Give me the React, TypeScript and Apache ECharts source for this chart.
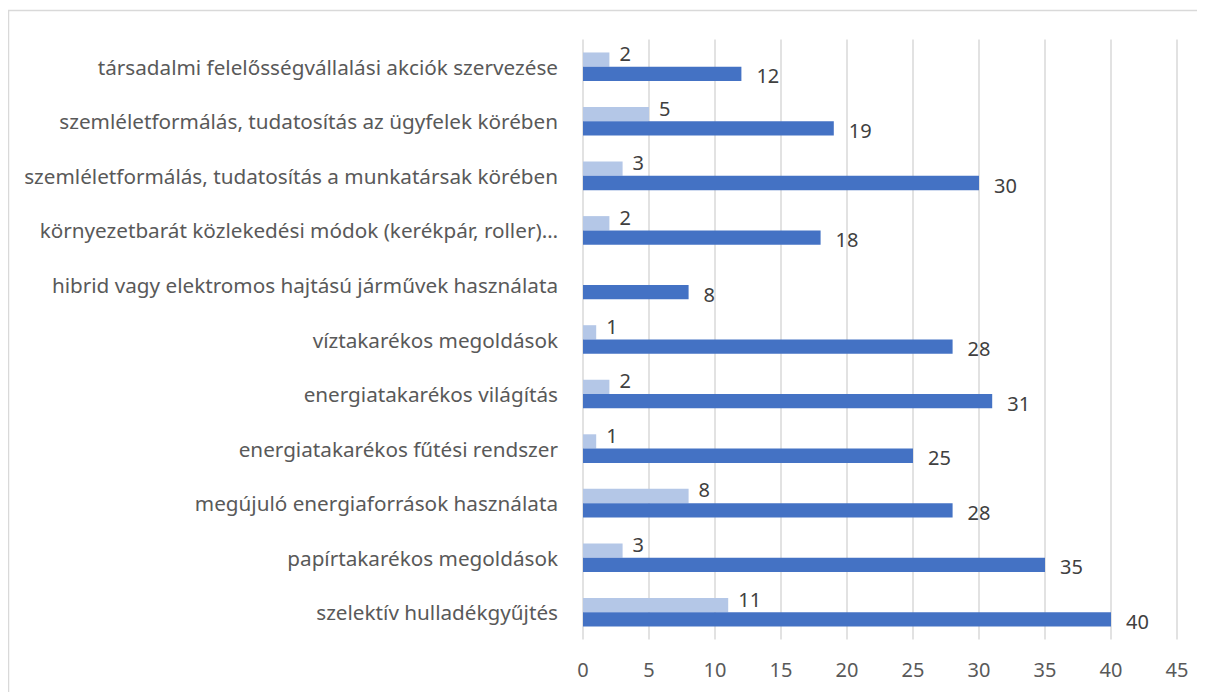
import React, { useEffect, useRef } from "react";
import * as echarts from "echarts";

const categories = [
  "szelektív hulladékgyűjtés",
  "papírtakarékos megoldások",
  "megújuló energiaforrások használata",
  "energiatakarékos fűtési rendszer",
  "energiatakarékos világítás",
  "víztakarékos megoldások",
  "hibrid vagy elektromos hajtású járművek használata",
  "környezetbarát közlekedési módok (kerékpár, roller)…",
  "szemléletformálás, tudatosítás a munkatársak körében",
  "szemléletformálás, tudatosítás az ügyfelek körében",
  "társadalmi felelősségvállalási akciók szervezése",
];
const lightValues: (number | null)[] = [11, 3, 8, 1, 2, 1, null, 2, 3, 5, 2];
const darkValues = [40, 35, 28, 25, 31, 28, 8, 18, 30, 19, 12];

const FONT = "'Noto Sans', 'Open Sans', sans-serif";

export default function App() {
  const ref = useRef<HTMLDivElement>(null);
  useEffect(() => {
    if (!ref.current) return;
    const chart = echarts.init(ref.current, undefined, { renderer: "svg" });
    chart.setOption({
      animation: false,
      textStyle: { fontFamily: FONT },
      graphic: [
        {
          type: "rect",
          shape: { x: 0.5, y: 2.5, width: 1300, height: 800 },
          style: { fill: "none", stroke: "#d9d9d9", lineWidth: 1.5 },
          silent: true,
        },
      ],
      grid: { left: 575, right: 28, top: 31.5, bottom: 52.5, containLabel: false },
      xAxis: {
        type: "value",
        min: 0,
        max: 45,
        interval: 5,
        axisLine: { show: false },
        axisTick: { show: false },
        splitLine: { lineStyle: { color: "#d9d9d9", width: 1.5 } },
        axisLabel: { color: "#595959", fontSize: 20, margin: 20, fontFamily: FONT },
      },
      yAxis: {
        type: "category",
        data: categories,
        axisLine: { show: false },
        axisTick: { show: false },
        axisLabel: { color: "#595959", fontSize: 20.7, margin: 25, fontFamily: FONT },
      },
      series: [
        {
          type: "bar",
          name: "light",
          data: lightValues,
          barWidth: 14.3,
          barGap: "0%",
          itemStyle: { color: "#B4C7E7" },
          label: {
            show: true,
            position: "right",
            distance: 10,
            color: "#404040",
            fontSize: 20,
            fontFamily: FONT,
            offset: [0, -6],
          },
        },
        {
          type: "bar",
          name: "dark",
          data: darkValues,
          barWidth: 14.3,
          barGap: "0%",
          itemStyle: { color: "#4472C4" },
          label: {
            show: true,
            position: "right",
            distance: 15,
            color: "#404040",
            fontSize: 20,
            fontFamily: FONT,
            offset: [0, 2],
          },
        },
      ],
    });
    return () => chart.dispose();
  }, []);
  return <div ref={ref} style={{ width: 1197, height: 684 }} />;
}
